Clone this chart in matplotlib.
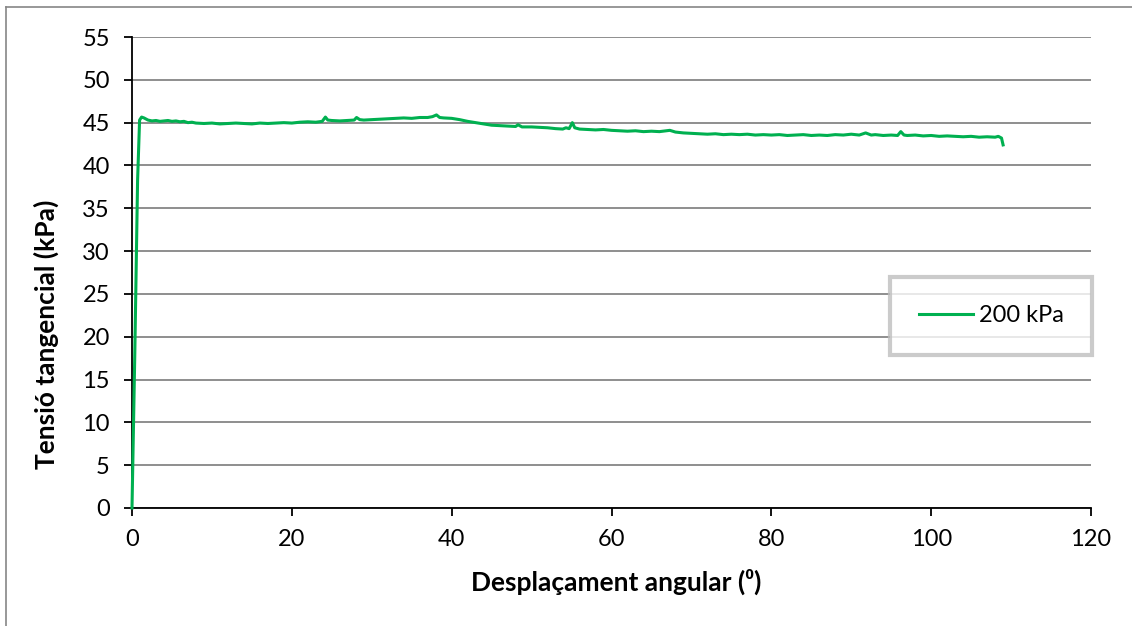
import matplotlib.pyplot as plt
from matplotlib.lines import Line2D

# shear test, normal stress 200 kPa
desplacament = [0, 0.35, 0.7, 0.95, 1.2, 1.5, 2.0, 2.5, 3, 3.5, 4, 4.5, 5, 5.5, 6, 6.5, 7, 7.5, 8, 9,
                10, 11, 12, 13, 14, 15, 16, 17, 18, 19, 20, 21, 22, 23, 23.8, 24.2, 24.5, 25, 26, 27,
                27.8, 28.1, 28.5, 29, 30, 31, 32, 33, 34, 35, 36, 37, 37.6, 38.1, 38.5, 39, 40, 41, 42, 43,
                44, 45, 46, 47, 48, 48.3, 48.8, 50, 51, 52, 53, 53.9, 54.3, 54.7, 55.1, 55.4, 56, 57, 58, 59,
                60, 61, 62, 63, 64, 65, 66, 67.3, 68, 69, 70, 71, 72, 73, 74, 75, 76, 77, 78, 79,
                80, 81, 82, 83, 84, 85, 86, 87, 88, 89, 90, 91, 91.8, 92.5, 93, 94, 95, 95.8, 96.2, 96.6,
                97, 98, 99, 100, 101, 102, 103, 104, 105, 106, 107, 108, 108.4, 108.8, 109]
tensio = [0, 18, 38.3, 45.3, 45.65, 45.55, 45.3, 45.2, 45.25, 45.15, 45.2, 45.25, 45.15, 45.2, 45.1, 45.15, 45.0, 45.05, 44.95, 44.9,
          44.95, 44.85, 44.9, 44.95, 44.9, 44.85, 44.95, 44.9, 44.95, 45.0, 44.95, 45.05, 45.1, 45.05, 45.15, 45.65, 45.3, 45.25, 45.2, 45.25,
          45.3, 45.6, 45.35, 45.3, 45.35, 45.4, 45.45, 45.5, 45.55, 45.5, 45.6, 45.6, 45.7, 45.9, 45.6, 45.55, 45.5, 45.35, 45.15, 45.0,
          44.85, 44.7, 44.65, 44.6, 44.55, 44.75, 44.5, 44.5, 44.45, 44.4, 44.3, 44.25, 44.4, 44.3, 45.0, 44.4, 44.25, 44.2, 44.15, 44.2,
          44.1, 44.05, 44.0, 44.05, 43.95, 44.0, 43.95, 44.1, 43.9, 43.8, 43.75, 43.7, 43.65, 43.7, 43.6, 43.65, 43.6, 43.65, 43.55, 43.6,
          43.55, 43.6, 43.5, 43.55, 43.6, 43.5, 43.55, 43.5, 43.6, 43.55, 43.65, 43.55, 43.8, 43.55, 43.6, 43.5, 43.55, 43.5, 43.95, 43.55,
          43.5, 43.55, 43.45, 43.5, 43.4, 43.45, 43.4, 43.35, 43.4, 43.3, 43.35, 43.3, 43.4, 43.2, 42.4]
serie = "200 kPa"
xticks = list(range(0, 121, 20))
yticks = list(range(0, 56, 5))

plt.rcParams['font.family'] = ['Lato', 'DejaVu Sans']

W, H = 1132, 626
fig = plt.figure(figsize=(W / 100, H / 100), dpi=100)
ax = fig.add_axes([132 / W, 1 - 508 / H, 959 / W, 471 / H])

ax.plot(desplacament, tensio, color='#00B050', linewidth=2.2, label=serie, zorder=5, clip_on=False)

ax.set_xlim(0, 120)
ax.set_ylim(0, 55)
ax.set_xticks(xticks)
ax.set_yticks(yticks)
ax.grid(axis='y', color='#868686', linewidth=1.3)
ax.set_axisbelow(True)
for s in ['top', 'right']:
    ax.spines[s].set_visible(False)
for s in ['left', 'bottom']:
    ax.spines[s].set_linewidth(1.3)
    ax.spines[s].set_zorder(4)
ax.tick_params(axis='both', direction='out', length=6, width=1.3, labelsize=17, colors='black')
ax.tick_params(axis='y', pad=10)
ax.tick_params(axis='x', pad=9)

fig.text(616 / W, 1 - 582 / H, "Desplaçament angular (\u2070)", ha='center', va='center',
         fontsize=19, fontweight='bold')
fig.text(46 / W, 1 - 334 / H, "Tensió tangencial (kPa)", ha='center', va='center',
         rotation=90, fontsize=19, fontweight='bold')

leg = ax.legend(loc='upper right', bbox_to_anchor=(1092 / W, 1 - 277 / H),
                bbox_transform=fig.transFigure, fontsize=17, frameon=True, fancybox=False,
                borderpad=1.2, handlelength=2.3, handletextpad=0.25, borderaxespad=0)
leg.get_frame().set_edgecolor('#BFBFBF')
leg.get_frame().set_linewidth(3)

# chart area border
fig.add_artist(Line2D([6 / W, 6 / W], [0, 1 - 7 / H], color='#868686', linewidth=1.2))
fig.add_artist(Line2D([6 / W, 1], [1 - 7 / H, 1 - 7 / H], color='#868686', linewidth=1.2))

fig.savefig("out.png", dpi=100)
